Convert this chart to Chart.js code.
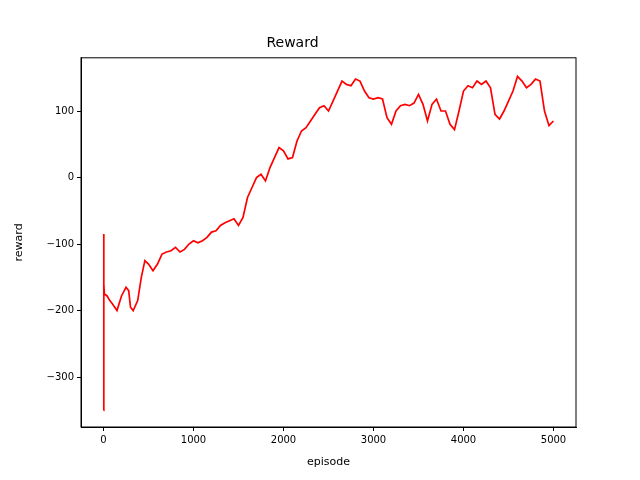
<!DOCTYPE html>
<html>
<head>
<script src="https://cdn.jsdelivr.net/npm/chart.js@4/dist/chart.umd.min.js"></script>
<style>body{margin:0;background:#fff}</style>
</head>
<body>
<canvas id="c" width="640" height="480"></canvas>
<script>
const episodes = [0, 2, 5, 10, 40, 70, 100, 150, 200, 250, 280, 300, 330, 380, 420, 460, 500, 550, 600, 650, 700, 750, 800, 850, 900, 950,
  1000, 1050, 1100, 1150, 1200, 1250, 1300, 1350, 1400, 1450, 1500, 1550, 1600, 1650, 1700, 1750, 1800, 1850, 1900, 1950,
  2000, 2050, 2100, 2150, 2200, 2250, 2300, 2350, 2400, 2450, 2500, 2550, 2600, 2650, 2700, 2750, 2800, 2850, 2900, 2950,
  3000, 3050, 3100, 3150, 3200, 3250, 3300, 3350, 3400, 3450, 3500, 3550, 3600, 3650, 3700, 3750, 3800, 3850, 3900, 3950,
  4000, 4050, 4100, 4150, 4200, 4250, 4300, 4350, 4400, 4450, 4500, 4550, 4600, 4650, 4700, 4750, 4800, 4850, 4900, 4950, 4999];
const rewards = [-350, -85, -160, -175, -178, -185, -190, -200, -178, -165, -170, -195, -200, -185, -150, -125, -130, -140, -130, -115, -112, -110, -105, -112, -108, -100,
  -95, -98, -95, -90, -82, -80, -72, -68, -65, -62, -72, -60, -30, -15, 0, 5, -5, 15, 30, 45,
  40, 28, 30, 55, 70, 75, 85, 95, 105, 108, 100, 115, 130, 145, 140, 138, 148, 145, 130, 120,
  118, 120, 118, 90, 80, 100, 108, 110, 108, 112, 125, 110, 85, 110, 118, 100, 100, 80, 72, 100,
  130, 138, 135, 145, 140, 145, 135, 95, 88, 100, 115, 130, 152, 145, 135, 140, 148, 145, 100, 78, 85];
const xTicks = [0, 1000, 2000, 3000, 4000, 5000];
const yTicks = [-300, -200, -100, 0, 100];

const fmt = v => String(v).replace('-', '\u2212');
const font = { family: 'DejaVu Sans', size: 10 };

const frame = {
  id: 'frame',
  afterDraw(chart) {
    const a = chart.chartArea, g = chart.ctx;
    g.save();
    g.strokeStyle = '#000';
    g.lineWidth = 1;
    g.strokeRect(a.left, a.top, a.right - a.left, a.bottom - a.top);
    g.restore();
  }
};

new Chart(document.getElementById('c'), {
  type: 'line',
  data: {
    datasets: [{
      data: episodes.map((e, i) => ({ x: e, y: rewards[i] })),
      borderColor: 'red',
      borderWidth: 1.7,
      pointRadius: 0,
      tension: 0
    }]
  },
  options: {
    responsive: false,
    animation: false,
    layout: { padding: { left: 9, right: 64, top: 0, bottom: 9 } },
    plugins: {
      legend: { display: false },
      tooltip: { enabled: false },
      title: {
        display: true, text: 'Reward', color: '#000',
        font: { family: 'DejaVu Sans', size: 14, weight: 'normal' },
        padding: { top: 35, bottom: 6 }
      }
    },
    scales: {
      x: {
        type: 'linear', min: -250, max: 5250,
        afterBuildTicks: s => { s.ticks = xTicks.map(v => ({ value: v })); },
        afterFit: s => { s.height = 44; },
        ticks: { color: '#000', font, callback: fmt, maxRotation: 0 },
        grid: { drawOnChartArea: false, drawTicks: true, tickLength: 4, color: '#000' },
        border: { color: '#000' },
        title: { display: true, text: 'episode', color: '#000', font: { family: 'DejaVu Sans', size: 11 }, padding: 2 }
      },
      y: {
        type: 'linear', min: -375, max: 180,
        afterBuildTicks: s => { s.ticks = yTicks.map(v => ({ value: v })); },
        afterFit: s => { s.width = 72; },
        ticks: { color: '#000', font, callback: fmt },
        grid: { drawOnChartArea: false, drawTicks: true, tickLength: 4, color: '#000' },
        border: { color: '#000' },
        title: { display: true, text: 'reward', color: '#000', font: { family: 'DejaVu Sans', size: 11 } }
      }
    }
  },
  plugins: [frame]
});
</script>
</body>
</html>
